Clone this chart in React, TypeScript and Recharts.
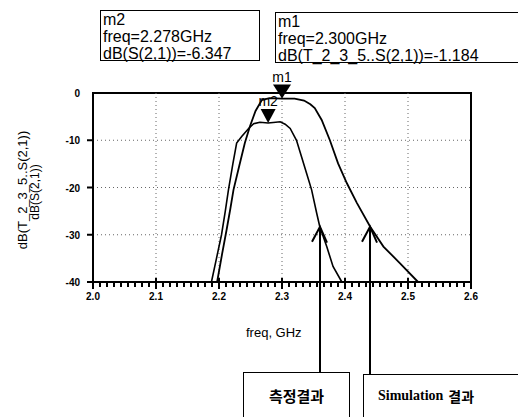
import { LineChart, Line, XAxis, YAxis, ReferenceLine, ReferenceDot, ReferenceArea } from 'recharts';

// measured S21 (측정결과)
const measFreq = [2.188, 2.196, 2.204, 2.21, 2.215, 2.222, 2.228, 2.236, 2.247, 2.255, 2.265, 2.278, 2.29, 2.297, 2.305, 2.313, 2.323, 2.331, 2.339, 2.347, 2.355, 2.36, 2.371, 2.381, 2.395];
const measDb = [-40, -35, -30, -25, -20.5, -15, -10.6, -9.2, -7.5, -6.5, -6.2, -6.35, -6.2, -6.1, -6.6, -7.5, -10, -13.5, -17, -20.5, -25.4, -28.3, -32.5, -36.7, -40];

// simulated S21 (T_2_3_5..S(2,1))
const simFreq = [2.197, 2.205, 2.212, 2.218, 2.223, 2.232, 2.241, 2.249, 2.258, 2.268, 2.28, 2.3, 2.32, 2.335, 2.345, 2.352, 2.363, 2.376, 2.389, 2.403, 2.419, 2.44, 2.461, 2.487, 2.516];
const simDb = [-40, -34, -29, -24.5, -20.5, -15.5, -10.6, -7.1, -3.8, -1.5, -1.1, -1.18, -1.2, -1.6, -2.4, -3.2, -5.7, -10, -14.9, -19.1, -23.3, -28.3, -32.5, -36, -40];

const xMajorTicks = [2.0, 2.1, 2.2, 2.3, 2.4, 2.5, 2.6];
const xGrid = [2.1, 2.2, 2.3, 2.4, 2.5];
const yTicks = [0, -10, -20, -30, -40];
const yGrid = [-10, -20, -30];
const minorPerMajor = 9;

const markers = [
  { name: 'm1', f: 2.3, db: -1.184, w: 18, h: 14 },
  { name: 'm2', f: 2.278, db: -6.347, w: 15, h: 14 },
];
const arrows = [
  { f: 2.3603, db: -28.3, bottom: 372 },
  { f: 2.4397, db: -28.3, bottom: 374 },
];

const measData = measFreq.map((f, i) => ({ f, db: measDb[i] }));
const simData = simFreq.map((f, i) => ({ f, db: simDb[i] }));

const xMinorTicks: number[] = [];
for (let i = 0; i < xMajorTicks.length - 1; i++) {
  for (let k = 1; k < minorPerMajor; k++) {
    xMinorTicks.push(+(xMajorTicks[i] + (k * 0.1) / minorPerMajor).toFixed(5));
  }
}

const font = 'Arial, Liberation Sans, sans-serif';

function XLabel({ x, y, payload }: any) {
  return (
    <text x={x} y={y + 18} textAnchor="middle" fontSize={10} fontWeight="bold" fontFamily={font}>
      {Number(payload.value).toFixed(1)}
    </text>
  );
}

function YLabel({ x, y, payload }: any) {
  return (
    <text x={x - 13} y={y + 4} textAnchor="end" fontSize={10} fontWeight="bold" fontFamily={font}>
      {payload.value}
    </text>
  );
}

const boxStyle: React.CSSProperties = {
  position: 'absolute',
  border: '1.5px solid #000',
  background: '#fff',
  fontFamily: font,
  fontSize: 16,
  lineHeight: '17px',
  padding: '0 2px',
  whiteSpace: 'nowrap',
  boxSizing: 'border-box',
};

const rotLabel: React.CSSProperties = {
  position: 'absolute',
  fontFamily: font,
  whiteSpace: 'nowrap',
  transform: 'translate(-50%, -50%) rotate(-90deg)',
  lineHeight: 1,
};

export default function App() {
  return (
    <div style={{ position: 'absolute', left: 0, top: 0, width: 518, height: 417, background: '#fff' }}>
      <LineChart width={518} height={417} data={simData} margin={{ top: 93, right: 47, left: 53, bottom: 105 }}>
        <XAxis
          type="number"
          dataKey="f"
          domain={[2.0, 2.6]}
          ticks={xMajorTicks}
          interval={0}
          tick={<XLabel />}
          tickLine={false}
          tickSize={0}
          tickMargin={0}
          height={30}
          stroke="#000"
          strokeWidth={2}
        />
        <YAxis
          type="number"
          domain={[-40, 0]}
          ticks={yTicks}
          interval={0}
          tick={<YLabel />}
          tickLine={false}
          tickSize={0}
          tickMargin={0}
          width={40}
          stroke="#000"
          strokeWidth={2}
        />
        {xGrid.map((v) => (
          <ReferenceLine key={'gx' + v} x={v} stroke="#666" strokeDasharray="1 3" />
        ))}
        {yGrid.map((v) => (
          <ReferenceLine key={'gy' + v} y={v} stroke="#666" strokeDasharray="1 3" />
        ))}
        <ReferenceArea x1={2.0} x2={2.6} y1={-40} y2={0} fill="none" fillOpacity={0} stroke="#000" strokeWidth={2} ifOverflow="visible" />
        <Line data={measData} dataKey="db" type="linear" stroke="#000" strokeWidth={1.6} dot={false} isAnimationActive={false} />
        <Line data={simData} dataKey="db" type="linear" stroke="#000" strokeWidth={1.8} dot={false} isAnimationActive={false} />
        {xMajorTicks.map((v) => (
          <ReferenceDot
            key={'xt' + v}
            x={v}
            y={-40}
            ifOverflow="visible"
            shape={(p: any) => <path d={`M${p.cx},${p.cy - 4}L${p.cx},${p.cy + 7}`} stroke="#000" strokeWidth={2} fill="none" />}
          />
        ))}
        {xMinorTicks.map((v) => (
          <ReferenceDot
            key={'xm' + v}
            x={v}
            y={-40}
            ifOverflow="visible"
            shape={(p: any) => <path d={`M${p.cx},${p.cy}L${p.cx},${p.cy + 5}`} stroke="#000" strokeWidth={2} fill="none" />}
          />
        ))}
        {yGrid.concat([-40]).map((v) => (
          <ReferenceDot
            key={'yt' + v}
            x={2.0}
            y={v}
            ifOverflow="visible"
            shape={(p: any) => <path d={`M${p.cx - 6},${p.cy}L${p.cx},${p.cy}`} stroke="#000" strokeWidth={2} fill="none" />}
          />
        ))}
        {markers.map((m) => (
          <ReferenceDot
            key={m.name}
            x={m.f}
            y={m.db}
            ifOverflow="visible"
            shape={(p: any) => (
              <g>
                <polygon
                  points={`${p.cx},${p.cy} ${p.cx - m.w / 2},${p.cy - m.h} ${p.cx + m.w / 2},${p.cy - m.h}`}
                  fill="#000"
                />
                <text x={p.cx} y={p.cy - m.h - 3} textAnchor="middle" fontSize={14} fontFamily={font}>
                  {m.name}
                </text>
              </g>
            )}
          />
        ))}
        {arrows.map((a, i) => (
          <ReferenceDot
            key={'a' + i}
            x={a.f}
            y={a.db}
            ifOverflow="visible"
            shape={(p: any) => (
              <g stroke="#000" strokeWidth={2} fill="none">
                <line x1={p.cx} x2={p.cx} y1={p.cy} y2={a.bottom} />
                <polyline points={`${p.cx - 8},${p.cy + 15} ${p.cx},${p.cy} ${p.cx + 7},${p.cy + 16}`} />
              </g>
            )}
          />
        ))}
      </LineChart>

      <div style={{ ...rotLabel, left: 22, top: 190, fontSize: 13 }}>dB(T_2_3_5..S(2,1))</div>
      <div style={{ ...rotLabel, left: 35, top: 192, fontSize: 12 }}>dB(S(2,1))</div>
      <div style={{ position: 'absolute', left: 246, top: 325, fontSize: 13, fontFamily: font }}>freq, GHz</div>

      <div style={{ ...boxStyle, left: 100, top: 10, width: 160, height: 51 }}>
        m2
        <br />
        freq=2.278GHz
        <br />
        dB(S(2,1))=-6.347
      </div>
      <div style={{ ...boxStyle, left: 275, top: 12, width: 260, height: 51 }}>
        m1
        <br />
        freq=2.300GHz
        <br />
        dB(T_2_3_5..S(2,1))=-1.184
      </div>

      <div
        style={{
          position: 'absolute',
          left: 243,
          top: 372,
          width: 107,
          height: 46,
          border: '1.5px solid #000',
          boxSizing: 'border-box',
          display: 'flex',
          alignItems: 'center',
          justifyContent: 'center',
          fontFamily: "'Noto Sans CJK KR'",
          fontWeight: 'bold',
          fontSize: 15,
          background: '#fff',
        }}
      >
        측정결과
      </div>
      <div
        style={{
          position: 'absolute',
          left: 363,
          top: 374,
          width: 170,
          height: 44,
          border: '1.5px solid #000',
          boxSizing: 'border-box',
          display: 'flex',
          alignItems: 'center',
          paddingLeft: 14,
          fontSize: 14,
          fontWeight: 'bold',
          background: '#fff',
          whiteSpace: 'nowrap',
        }}
      >
        <span style={{ fontFamily: "'Liberation Serif', 'DejaVu Serif', serif" }}>Simulation</span>
        <span style={{ fontFamily: "'Noto Sans CJK KR'", marginLeft: 5 }}>결과</span>
      </div>
    </div>
  );
}
